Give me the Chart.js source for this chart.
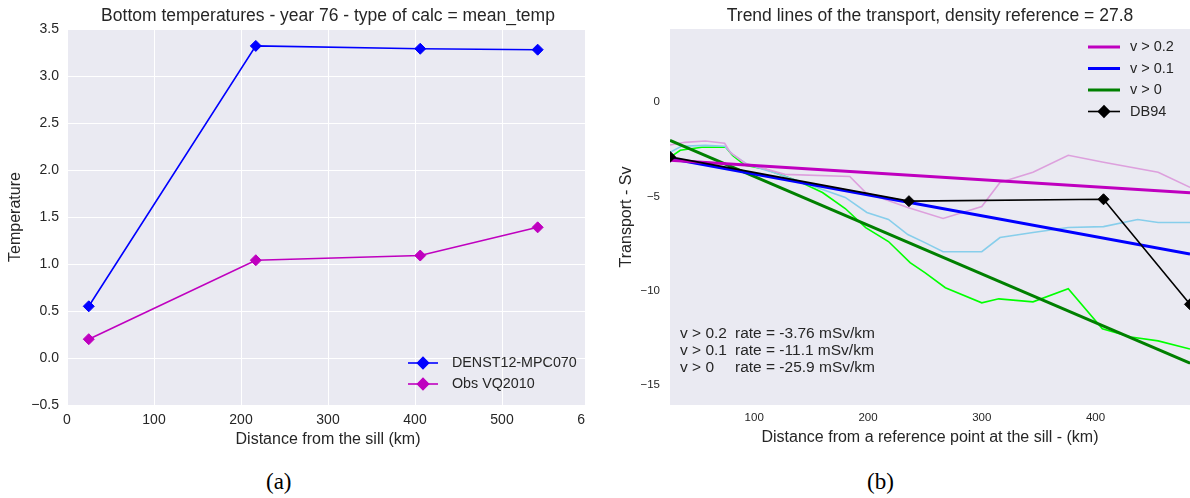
<!DOCTYPE html>
<html>
<head>
<meta charset="utf-8">
<script src="https://cdn.jsdelivr.net/npm/chart.js@4.4.1/dist/chart.umd.min.js"></script>
<style>
html, body { margin: 0; padding: 0; background: #fff; overflow: hidden; }
body { width: 1190px; height: 498px; position: relative; }
#wrapA { position: absolute; left: 0; top: 0; width: 585px; height: 449px; overflow: hidden; }
#wrapB { position: absolute; left: 600px; top: 0; width: 590px; height: 449px; overflow: hidden; }
.cap { position: absolute; top: 469px; font-family: 'Liberation Serif', 'DejaVu Serif', serif; font-size: 23px; color: #000; }
</style>
</head>
<body>
<div id="wrapA"><canvas id="chartA" width="600" height="449"></canvas></div>
<div id="wrapB"><canvas id="chartB" width="590" height="447"></canvas></div>
<div class="cap" style="left:266px">(a)</div>
<div class="cap" style="left:867px">(b)</div>
<script>
// (a) bottom temperatures
const sillDistance = [25, 217, 406, 541];
const modelTemp = [0.55, 3.32, 3.29, 3.28];
const obsTemp = [0.20, 1.04, 1.09, 1.39];

// (b) transport along the section
const rawX02 = [26, 39, 57, 74, 79, 92, 127, 184, 198, 235, 266, 300, 316, 345, 376, 407, 455, 483];
const rawY02 = [-2.27, -2.13, -2.06, -2.18, -2.66, -3.24, -3.83, -3.94, -4.79, -5.59, -6.17, -5.53, -4.26, -3.72, -2.82, -3.19, -3.72, -4.52];
const rawX01 = [26, 36, 57, 74, 81, 94, 114, 145, 180, 199, 218, 235, 250, 266, 300, 316, 345, 376, 407, 437, 455, 483];
const rawY01 = [-2.66, -2.34, -2.29, -2.34, -2.77, -3.30, -3.67, -4.31, -5.05, -5.85, -6.22, -7.02, -7.45, -7.93, -7.93, -7.18, -6.91, -6.65, -6.60, -6.22, -6.38, -6.38];
const rawX0 = [26, 35, 54, 75, 81, 92, 110, 139, 160, 180, 198, 218, 237, 250, 268, 300, 315, 345, 376, 406, 431, 455, 483];
const rawY0 = [-2.93, -2.55, -2.39, -2.39, -2.82, -3.35, -3.56, -4.20, -4.79, -5.64, -6.65, -7.39, -8.51, -9.04, -9.84, -10.64, -10.43, -10.59, -9.89, -12.02, -12.45, -12.66, -13.09];
const trendX = [26, 483];
const trend02 = [-3.08, -4.80];
const trend01 = [-2.98, -8.05];
const trend0 = [-2.02, -13.84];
const db94X = [26, 236, 407, 483];
const db94Y = [-2.9, -5.25, -5.15, -10.72];
const rateLabels = ['v > 0.2', 'v > 0.1', 'v > 0'];
const rateTexts = ['rate = -3.76 mSv/km', 'rate = -11.1 mSv/km', 'rate = -25.9 mSv/km'];

const FONT = "'Liberation Sans', Arial, sans-serif";
const TXT = '#262626';
const BG = '#eaeaf2';

function pts(xs, ys) {
    return xs.map((x, i) => ({ x: x, y: ys[i] }));
}
function minus(s) {
    return String(s).replace('-', '\u2212');
}

// grey panel behind the data
const panelBg = {
    id: 'panelBg',
    beforeDraw(chart) {
        const a = chart.chartArea;
        chart.ctx.save();
        chart.ctx.fillStyle = BG;
        chart.ctx.fillRect(a.left, a.top, a.right - a.left, a.bottom - a.top);
        chart.ctx.restore();
    }
};

// matplotlib style legend drawn inside the panel
const inLegend = {
    id: 'inLegend',
    afterDatasetsDraw(chart, args, opts) {
        if (!opts.items) return;
        const ctx = chart.ctx;
        const a = chart.chartArea;
        ctx.save();
        ctx.font = opts.fontSize + 'px ' + FONT;
        ctx.textBaseline = 'middle';
        ctx.fillStyle = TXT;
        opts.items.forEach((idx, i) => {
            const ds = chart.data.datasets[idx];
            const y = (opts.fromBottom ? a.bottom : a.top) + opts.y + i * opts.rowH;
            const x0 = a.right + opts.x;
            ctx.strokeStyle = ds.borderColor;
            ctx.lineWidth = ds.borderWidth;
            ctx.beginPath();
            ctx.moveTo(x0, y);
            ctx.lineTo(x0 + opts.lineW, y);
            ctx.stroke();
            if (ds.pointRadius > 0) {
                ctx.fillStyle = ds.borderColor;
                Chart.helpers.drawPoint(ctx, { pointStyle: 'rectRot', radius: ds.pointRadius, borderWidth: 1, rotation: 0 }, x0 + opts.lineW / 2, y);
            }
            ctx.fillStyle = TXT;
            ctx.fillText(ds.label, x0 + opts.textDx, y);
        });
        ctx.restore();
    }
};

// rate annotations
const rateNotes = {
    id: 'rateNotes',
    afterDatasetsDraw(chart, args, opts) {
        if (!opts.labels) return;
        const ctx = chart.ctx;
        const a = chart.chartArea;
        ctx.save();
        ctx.font = opts.fontSize + 'px ' + FONT;
        ctx.textBaseline = 'middle';
        ctx.fillStyle = TXT;
        opts.labels.forEach((t, i) => {
            const y = a.top + opts.y + i * opts.rowH;
            ctx.fillText(t, a.left + 10, y);
            ctx.fillText(opts.texts[i], a.left + 65, y);
        });
        ctx.restore();
    }
};

Chart.register(panelBg, inLegend, rateNotes);

new Chart(document.getElementById('chartA'), {
    type: 'line',
    data: {
        datasets: [
            {
                label: 'DENST12-MPC070',
                data: pts(sillDistance, modelTemp),
                borderColor: '#0000ff',
                backgroundColor: '#0000ff',
                borderWidth: 1.6,
                pointStyle: 'rectRot',
                pointRadius: 5.5,
                pointBorderWidth: 1
            },
            {
                label: 'Obs VQ2010',
                data: pts(sillDistance, obsTemp),
                borderColor: '#bf00bf',
                backgroundColor: '#bf00bf',
                borderWidth: 1.6,
                pointStyle: 'rectRot',
                pointRadius: 5.5,
                pointBorderWidth: 1
            }
        ]
    },
    options: {
        responsive: false,
        animation: false,
        layout: { autoPadding: false, padding: { left: 0, right: 11, top: 0, bottom: 0 } },
        plugins: {
            legend: { display: false },
            tooltip: { enabled: false },
            title: {
                display: true,
                text: 'Bottom temperatures - year 76 - type of calc = mean_temp',
                fullSize: false,
                color: TXT,
                font: { family: FONT, size: 17.5, weight: 'normal' },
                padding: { top: 6, bottom: 2 }
            },
            inLegend: { items: [0, 1], fromBottom: true, x: -181, y: -42, rowH: 21, lineW: 30, textDx: 44, fontSize: 14.3 }
        },
        scales: {
            x: {
                type: 'linear',
                min: 0,
                max: 600,
                ticks: { stepSize: 100, color: TXT, font: { family: FONT, size: 14 }, padding: 7, maxRotation: 0 },
                grid: { color: '#ffffff', lineWidth: 1, drawTicks: false },
                border: { display: false },
                title: { display: true, text: 'Distance from the sill (km)', color: TXT, font: { family: FONT, size: 16 }, padding: { top: 0, bottom: 0 } },
                afterFit: s => { s.height = 44; s.paddingLeft = 0; s.paddingRight = 0; }
            },
            y: {
                min: -0.5,
                max: 3.5,
                ticks: { stepSize: 0.5, color: TXT, font: { family: FONT, size: 14 }, padding: 8, callback: v => minus(v.toFixed(1)) },
                grid: { color: '#ffffff', lineWidth: 1, drawTicks: false },
                border: { display: false },
                title: { display: true, text: 'Temperature', color: TXT, font: { family: FONT, size: 16 }, padding: { top: 6, bottom: 0 } },
                afterFit: s => { s.width = 67; s.paddingTop = 0; s.paddingBottom = 0; }
            }
        }
    }
});

new Chart(document.getElementById('chartB'), {
    type: 'line',
    data: {
        datasets: [
            { label: 'v > 0.2', data: pts(trendX, trend02), borderColor: '#bf00bf', borderWidth: 3, pointRadius: 0, order: 1 },
            { label: 'v > 0.1', data: pts(trendX, trend01), borderColor: '#0000ff', borderWidth: 3, pointRadius: 0, order: 1 },
            { label: 'v > 0', data: pts(trendX, trend0), borderColor: '#008000', borderWidth: 3, pointRadius: 0, order: 1 },
            {
                label: 'DB94',
                data: pts(db94X, db94Y),
                borderColor: '#000000',
                backgroundColor: '#000000',
                borderWidth: 1.6,
                pointStyle: 'rectRot',
                pointRadius: 5.5,
                pointBorderWidth: 1,
                order: 0
            },
            { label: 'raw v > 0.2', data: pts(rawX02, rawY02), borderColor: '#dda0dd', borderWidth: 1.6, pointRadius: 0, order: 2 },
            { label: 'raw v > 0.1', data: pts(rawX01, rawY01), borderColor: '#87ceeb', borderWidth: 1.6, pointRadius: 0, order: 2 },
            { label: 'raw v > 0', data: pts(rawX0, rawY0), borderColor: '#00ff00', borderWidth: 1.6, pointRadius: 0, order: 2 }
        ]
    },
    options: {
        responsive: false,
        animation: false,
        layout: { autoPadding: false, padding: { left: 0, right: 0, top: 0, bottom: 0 } },
        plugins: {
            legend: { display: false },
            tooltip: { enabled: false },
            title: {
                display: true,
                text: 'Trend lines of the transport, density reference = 27.8',
                fullSize: false,
                color: TXT,
                font: { family: FONT, size: 17.5, weight: 'normal' },
                padding: { top: 6, bottom: 2 }
            },
            inLegend: { items: [0, 1, 2, 3], fromBottom: false, x: -102, y: 18, rowH: 21.5, lineW: 32, textDx: 42, fontSize: 14.5 },
            rateNotes: { labels: rateLabels, texts: rateTexts, y: 305, rowH: 17, fontSize: 15.5 }
        },
        scales: {
            x: {
                type: 'linear',
                min: 26,
                max: 483,
                ticks: { stepSize: 100, includeBounds: false, color: TXT, font: { family: FONT, size: 11.5 }, padding: 6, maxRotation: 0 },
                grid: { display: false, drawTicks: false },
                border: { display: false },
                title: { display: true, text: 'Distance from a reference point at the sill - (km)', color: TXT, font: { family: FONT, size: 16 }, padding: { top: 0, bottom: 0 } },
                afterFit: s => { s.height = 42; s.paddingLeft = 0; s.paddingRight = 0; }
            },
            y: {
                min: -16.06,
                max: 3.88,
                ticks: { stepSize: 5, includeBounds: false, color: TXT, font: { family: FONT, size: 11.5 }, padding: 10, callback: v => minus(v) },
                grid: { display: false, drawTicks: false },
                border: { display: false },
                title: { display: true, text: 'Transport - Sv', color: TXT, font: { family: FONT, size: 16 }, padding: { top: 17, bottom: 0 } },
                afterFit: s => { s.width = 70; s.paddingTop = 0; s.paddingBottom = 0; }
            }
        }
    }
});
</script>
</body>
</html>
